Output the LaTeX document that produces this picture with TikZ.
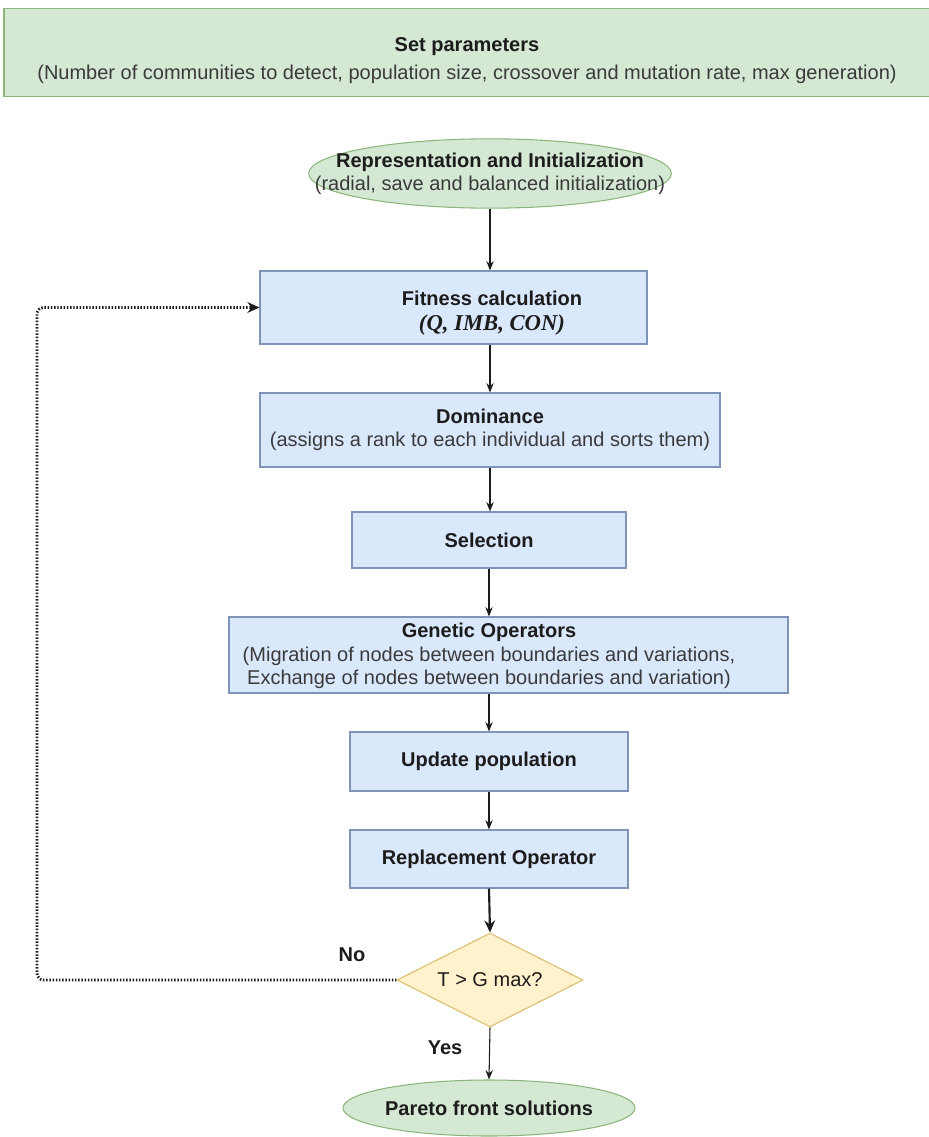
\documentclass[tikz,border=0pt]{standalone}
\usepackage{fontspec}
\setmainfont{Liberation Sans}
\newfontfamily\formulafont{Liberation Serif}
\usetikzlibrary{shapes.geometric,arrows.meta}

\definecolor{gfill}{HTML}{D5E8D4}
\definecolor{gedge}{HTML}{8DB67E}
\definecolor{bfill}{HTML}{DAE8FC}
\definecolor{bedge}{HTML}{7F95B8}
\definecolor{yfill}{HTML}{FFF2CC}
\definecolor{yedge}{HTML}{D9BE6E}
\definecolor{ink}{HTML}{1C1C1C}
\definecolor{subink}{HTML}{3A3A3A}

\begin{document}
\begin{tikzpicture}[x=0.75pt,y=-0.75pt,
  txt/.style={font=\fontsize{15}{17.5}\selectfont, text=ink, align=center, inner sep=0pt},
  shapebase/.style={inner sep=0pt, line width=0.8pt},
  greenbox/.style={shapebase, rectangle, draw=gedge, fill=gfill},
  greenoval/.style={shapebase, ellipse, draw=gedge, fill=gfill},
  bluebox/.style={shapebase, rectangle, draw=bedge, fill=bfill, txt},
  decision/.style={shapebase, diamond, aspect=2, draw=yedge, fill=yfill, txt},
  flow/.style={draw=ink, line width=0.8pt, -{Stealth[length=7pt,width=5.5pt]}},
  boldflow/.style={draw=ink, line width=1.6pt, -{Stealth[length=9pt,width=8pt]}},
  feedback/.style={draw=ink, line width=2.1pt, dash pattern=on 1.1pt off 1.3pt,
    rounded corners=5pt, -{Stealth[length=9pt,width=8pt]}},
  sub/.style={text=subink}
]
\useasboundingbox (0,0) rectangle (928,1137);
\fill[white] (0,0) rectangle (928,1137);

% parameter banner
\node[greenbox, minimum width=694.5pt, minimum height=66.5pt] (params) at (467,52.5) {};
\node[txt] (paramsText) at (467,61)
  {\textbf{Set parameters}\\[3.5pt]{\color{subink}(Number of communities to detect, population size, crossover and mutation rate, max generation)}};

% initialisation
\node[greenoval, minimum width=272pt, minimum height=52pt] (init) at (490,173.5) {};
\node[txt] (initText) at (490,174)
  {\textbf{Representation and Initialization}\\{\color{subink}(radial, save and balanced initialization)}};

% fitness
\node[bluebox, minimum width=290.25pt, minimum height=54.75pt] (fit) at (453.5,307.5) {};
\node[txt] (fitText) at (492,313)
  {\textbf{Fitness calculation}\\[1pt]{\formulafont\fontsize{17}{19}\selectfont\bfseries\itshape (Q, IMB, CON)}};

% dominance
\node[bluebox, minimum width=345pt, minimum height=55.5pt] (dom) at (490,430)
  {\textbf{Dominance}\\{\color{subink}(assigns a rank to each individual and sorts them)}};

% selection
\node[bluebox, minimum width=205.5pt, minimum height=42pt] (sel) at (489,540)
  {\textbf{Selection}};

% genetic operators
\node[bluebox, minimum width=419.25pt, minimum height=57pt] (gen) at (508.5,655) {};
\node[txt] (genText) at (489,656)
  {\textbf{Genetic Operators}\\{\color{subink}(Migration of nodes between boundaries and variations,}\\{\color{subink}Exchange of nodes between boundaries and variation)}};

% update and replacement
\node[bluebox, minimum width=208.5pt, minimum height=44.25pt] (upd) at (489,761.5)
  {\textbf{Update population}};
\node[bluebox, minimum width=208.5pt, minimum height=43.5pt] (rep) at (489,859)
  {\textbf{Replacement Operator}};

% stopping test
\node[decision, minimum width=139.5pt, minimum height=70.5pt] (test) at (490,980)
  {T > G max?};

% result
\node[greenoval, minimum width=219pt, minimum height=42pt] (pareto) at (489,1108) {};
\node[txt] (paretoText) at (489,1108) {\textbf{Pareto front solutions}};

% branch labels
\node[txt, font=\fontsize{15}{17.5}\selectfont\bfseries] (no) at (352,955) {No};
\node[txt, font=\fontsize{15}{17.5}\selectfont\bfseries] (yes) at (445,1048) {Yes};

% main flow
\draw[flow] (init.south) -- (init.south |- fit.north);
\draw[flow] (init.south |- fit.south) -- (dom.north);
\draw[flow] (dom.south) -- (dom.south |- sel.north);
\draw[flow] (sel.south) -- (sel.south |- gen.north);
\draw[flow] (sel.south |- gen.south) -- (upd.north);
\draw[flow] (upd.south) -- (rep.north);
\draw[boldflow] (rep.south) -- (test.north);
\draw[flow] (test.south) -- (pareto.north);

% loop back while the generation limit is not reached
\coordinate (loopLow) at (37,980);
\coordinate (loopHigh) at (37,307.5);
\draw[feedback] (test.west) -- (loopLow) -- (loopHigh) -- (fit.west);
\end{tikzpicture}
\end{document}
